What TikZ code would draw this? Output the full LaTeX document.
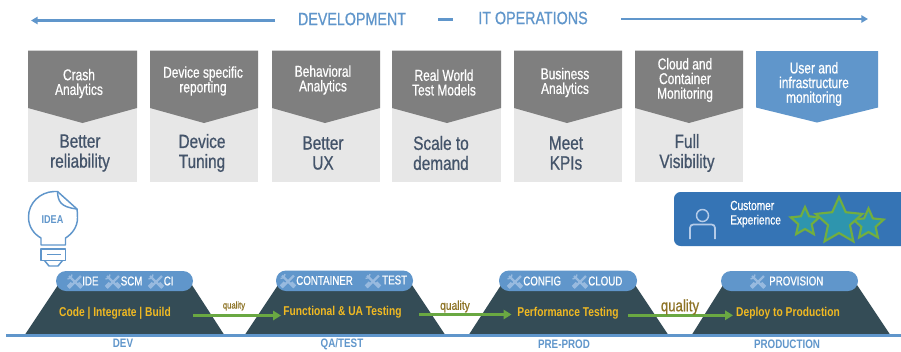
\documentclass[tikz,border=0pt]{standalone}
\usepackage{fontspec}
\setmainfont{Liberation Sans}
\newfontfamily\narrowf[FakeStretch=0.8,FakeBold=0.7]{Liberation Sans}
\newfontfamily\narrowp[FakeStretch=0.76,FakeBold=0.6]{Liberation Sans}
\newfontfamily\narrowb[FakeStretch=0.8]{Liberation Sans Bold}
\usetikzlibrary{arrows.meta}
\definecolor{hblue}{HTML}{6096CB}
\definecolor{cardgray}{HTML}{7F7F7F}
\definecolor{cardlight}{HTML}{E7E7E7}
\definecolor{slate}{HTML}{44546A}
\definecolor{trap}{HTML}{344C56}
\definecolor{gold}{HTML}{F0B922}
\definecolor{leaf}{HTML}{6AA842}
\definecolor{qual}{HTML}{8E7426}
\definecolor{cxblue}{HTML}{3574B5}
\definecolor{starfill}{HTML}{2E95AE}
\definecolor{starline}{HTML}{72AE3F}
\definecolor{toolc}{HTML}{98BADF}
\definecolor{iconc}{HTML}{B4CBE8}
\newcommand{\fsz}[2]{\fontsize{#1}{#2}\selectfont}
\tikzset{
  x=0.75pt,y=-0.75pt,
  headtxt/.style={text=hblue,font=\narrowf\fsz{13.4}{16},inner sep=0},
  cardhead/.style={text=white,align=center,font=\narrowp\fsz{11.8}{11},inner sep=0},
  cardbody/.style={text=slate,align=center,font=\narrowf\fsz{14.4}{15},inner sep=0},
  goldtxt/.style={text=gold,font=\narrowb\fsz{9.6}{10},inner sep=0},
  pilltxt/.style={text=white,font=\narrowp\fsz{9.6}{10},inner sep=0,anchor=west},
  stagetxt/.style={text=hblue,font=\narrowb\fsz{9.2}{10},inner sep=0},
  qualtxt/.style={text=qual,inner sep=0},
  flowarrow/.style={draw=leaf,line width=1.9pt,-{Triangle[length=6pt,width=7pt]}},
  bararrow/.style={draw=hblue,line width=2.1pt},
  bulbline/.style={draw=hblue,line width=1.1pt,line join=round},
  trapshape/.style={fill=trap},
  pillshape/.style={fill=hblue,rounded corners=7.5pt},
  tool/.pic={
    \draw[toolc,line width=1.7pt] (-6,-6) -- (6,6);
    \draw[toolc,line width=1.7pt] (6,-6) -- (-6,6);
    \draw[toolc,line width=2.6pt] (-7,5) -- (-3,1);
    \draw[toolc,line width=2.6pt] (7,5) -- (3,1);
    \draw[toolc,line width=1pt] (-7.5,-3) -- (-4,-4) -- (-3,-7.5);
  },
  starshape/.style={fill=starfill,draw=starline,line width=1.6pt,line join=miter},
}
\newcommand{\card}[9]{%
 \fill[cardlight] (#1,50.5) rectangle (#2,182);
 \fill[cardgray] (#1,50.5) -- (#2,50.5) -- (#2,108) -- (#3,123) -- (#1,108) -- cycle;
 \node[cardhead] (#4h) at (#7,#5) {#6};
 \node[cardbody] (#4b) at (#8,153) {#9};
}
\newcommand{\fivestar}[3]{%
 \draw[starshape] (#1,#2-#3)
  -- (#1+0.276*#3,#2-0.38*#3) -- (#1+0.951*#3,#2-0.309*#3)
  -- (#1+0.447*#3,#2+0.145*#3) -- (#1+0.588*#3,#2+0.809*#3)
  -- (#1,#2+0.47*#3) -- (#1-0.588*#3,#2+0.809*#3)
  -- (#1-0.447*#3,#2+0.145*#3) -- (#1-0.951*#3,#2-0.309*#3)
  -- (#1-0.276*#3,#2-0.38*#3) -- cycle;
}
\begin{document}
\begin{tikzpicture}
\useasboundingbox (0,0) rectangle (901,351);
\fill[white] (0,0) rectangle (901,351);
% header
\node[headtxt] (dev) at (352,19) {DEVELOPMENT};
\node[headtxt] (ops) at (533,18) {IT OPERATIONS};
\coordinate (la) at (31,20.5);
\coordinate (ra) at (868,19);
\coordinate (ls) at (275,20.5);
\coordinate (rs) at (621,19);
\coordinate (d1) at (438,19.5);
\coordinate (d2) at (453,19.5);
\draw[bararrow,-{Triangle[length=5pt,width=5.5pt]}] (ls) -- (la);
\draw[bararrow,line width=1.9pt,-{Triangle[length=5pt,width=5.5pt]}] (rs) -- (ra);
\draw[bararrow] (d1) -- (d2);
% cards
\card{28}{137}{82.5}{c1}{83.5}{Crash\\Analytics}{79}{80}{Better\\reliability}
\card{150}{258}{204}{c2}{81}{Device specific\\reporting}{203}{202}{Device\\Tuning}
\card{272}{380}{325}{c3}{80}{Behavioral\\Analytics}{323}{323}{Better\\UX}
\card{392}{501}{447}{c4}{82.5}{Real World\\Test Models}{444}{441}{Scale to\\demand}
\card{514}{622}{567}{c5}{82.5}{Business\\Analytics}{565}{566}{Meet\\KPIs}
\card{635}{743}{689}{c6}{80}{Cloud and\\Container\\Monitoring}{685}{687}{Full\\Visibility}
\fill[hblue] (756,51) -- (878,51) -- (878,107.5) -- (817,122.5) -- (756,107.5) -- cycle;
\node[cardhead] (c7h) at (814,84) {User and\\infrastructure\\monitoring};
% idea bulb
\draw[bulbline] (41,245) -- (41,238) .. controls (34,234) and (28.5,227) .. (28.5,217)
  .. controls (28.5,203) and (40,192) .. (54,191.5) -- (57.5,191.5) -- (77,209)
  .. controls (77.5,212) and (77.5,215) .. (77.5,218)
  .. controls (77.5,227) and (72,234) .. (65.5,238) -- (65.5,245) -- cycle;
\draw[bulbline] (57.5,191.5) .. controls (58,201) and (60,207) .. (77,209);
\draw[bulbline] (41,249) rectangle (65.5,260.5);
\draw[bulbline] (47,254.5) -- (61,254.5);
\draw[bulbline] (44.5,260.5) -- (49,266) -- (58,266) -- (62.5,260.5);
\node[text=hblue,font=\narrowb\fsz{8.5}{10},inner sep=0] (idea) at (52.5,219.5) {IDEA};
% customer experience
\fill[cxblue,rounded corners=5pt] (674,192) rectangle (912,246);
\draw[iconc,line width=1.1pt] (702.5,215.5) circle (6);
\draw[iconc,line width=1.3pt,rounded corners=2.5pt] (690,239) -- (690,224.5) -- (715,224.5) -- (715,239);
\node[inner sep=0,anchor=west,text=white,align=left,font=\narrowp\fsz{10}{10.8}] (cx) at (730,214) {Customer\\Experience};
\fivestar{805}{222}{15}
\fivestar{868.5}{224.5}{16}
\fivestar{839}{221.5}{24.5}
% trapezoids and base
\fill[trapshape] (25,334.5) -- (60,282) -- (190,282) -- (224,334.5) -- cycle;
\fill[trapshape] (245,334.5) -- (280,282) -- (410,282) -- (445,334.5) -- cycle;
\fill[trapshape] (469,334.5) -- (503,282) -- (633,282) -- (668,334.5) -- cycle;
\fill[trapshape] (692,334.5) -- (725,282) -- (855,282) -- (890,334.5) -- cycle;
\coordinate (b1) at (6,335.8);
\coordinate (b2) at (901,335.8);
\draw[hblue,line width=2.3pt] (b1) -- (b2);
% pills
\fill[pillshape] (56,271) rectangle (193,291);
\fill[pillshape] (276,270.5) rectangle (413,291);
\fill[pillshape] (499,270.5) rectangle (637,291);
\fill[pillshape] (721,271) rectangle (858,291);
\pic at (75,282) {tool}; \node[pilltxt] (t1) at (82,281) {IDE};
\pic at (113,282) {tool}; \node[pilltxt] (t2) at (120.5,281) {SCM};
\pic at (156,282) {tool}; \node[pilltxt] (t3) at (163.5,281) {CI};
\pic at (288,281.5) {tool}; \node[pilltxt] (t4) at (296,280.5) {CONTAINER};
\pic at (373,281.5) {tool}; \node[pilltxt] (t5) at (382,280) {TEST};
\pic at (515,282) {tool}; \node[pilltxt] (t6) at (523,281) {CONFIG};
\pic at (580,282) {tool}; \node[pilltxt] (t7) at (588,281) {CLOUD};
\pic at (758,282) {tool}; \node[pilltxt] (t8) at (769,281) {PROVISION};
% stage texts
\node[goldtxt] (s1) at (115,313) {Code | Integrate | Build};
\node[goldtxt] (s2) at (342.5,312.7) {Functional \& UA Testing};
\node[goldtxt] (s3) at (568,313) {Performance Testing};
\node[goldtxt] (s4) at (788,313) {Deploy to Production};
% flow arrows
\coordinate (f1a) at (193,315.5); \coordinate (f1b) at (281,315.5);
\coordinate (f2a) at (419,314.5); \coordinate (f2b) at (511.5,314.5);
\coordinate (f3a) at (628,315.3); \coordinate (f3b) at (733,315.3);
\draw[flowarrow] (f1a) -- (f1b);
\draw[flowarrow] (f2a) -- (f2b);
\draw[flowarrow] (f3a) -- (f3b);
\node[qualtxt,font=\narrowf\fsz{7.2}{7}] (q1) at (234,306) {quality};
\node[qualtxt,font=\narrowf\fsz{9.6}{9}] (q2) at (455,306.5) {quality};
\node[qualtxt,font=\narrowf\fsz{12.4}{12}] (q3) at (680,307) {quality};
% stage names
\node[stagetxt] (n1) at (123,343.5) {DEV};
\node[stagetxt] (n2) at (342,344) {QA/TEST};
\node[stagetxt] (n3) at (564,344) {PRE-PROD};
\node[stagetxt] (n4) at (787,344.5) {PRODUCTION};
\end{tikzpicture}
\end{document}
